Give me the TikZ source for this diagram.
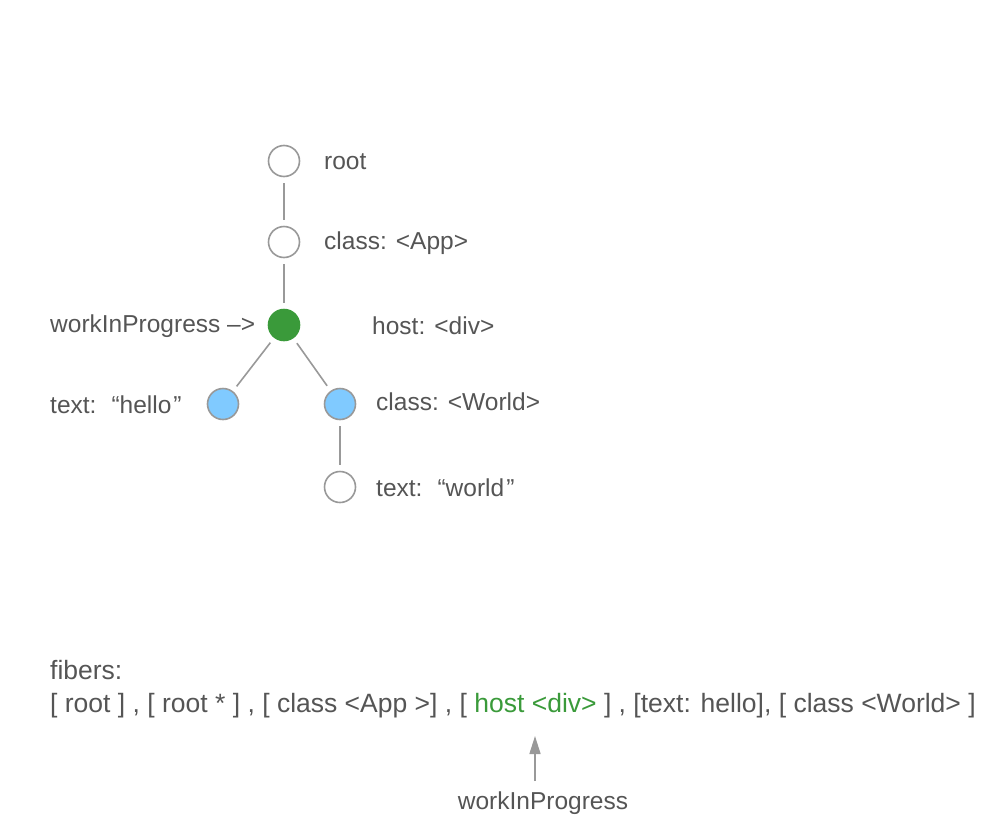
\documentclass[tikz,border=0pt]{standalone}
\usepackage{fontspec}
\setmainfont{Liberation Sans}
\usetikzlibrary{arrows.meta}
\definecolor{txt}{HTML}{555555}
\definecolor{edge}{HTML}{999999}
\definecolor{wipgreen}{HTML}{3A9A3A}
\definecolor{textgreen}{HTML}{3A9A3A}
\definecolor{lblue}{HTML}{80CAFF}
\begin{document}
\begin{tikzpicture}[x=1pt,y=-1pt,
  fnode/.style={circle,draw=edge,line width=1.6pt,minimum size=31pt,inner sep=0pt},
  plain/.style={fnode,fill=white},
  cur/.style={fnode,draw=wipgreen,fill=wipgreen},
  kid/.style={fnode,fill=lblue},
  lbl/.style={text=txt,font=\fontsize{24.5}{29}\selectfont,inner sep=0pt},
  lst/.style={text=txt,font=\fontsize{26.5}{31}\selectfont,inner sep=0pt},
  link/.style={draw=edge,line width=1.6pt,shorten <=6pt,shorten >=6pt}]
\useasboundingbox (0,0) rectangle (990,830);
\node[plain] (root) at (284,161) {};
\node[plain] (app) at (284,242) {};
\node[cur] (host) at (284,325) {};
\node[kid] (hello) at (223,404) {};
\node[kid] (worldc) at (340,404) {};
\node[plain] (worldt) at (340,487) {};
\draw[link] (root) -- (app);
\draw[link] (app) -- (host);
\draw[link] (host) -- (hello);
\draw[link] (host) -- (worldc);
\draw[link] (worldc) -- (worldt);
\node[lbl,anchor=west] (lroot) at (324,162) {root};
\node[lbl,anchor=west] (lapp) at (324,243) {class: <App>};
\node[lbl,anchor=west] (lwip) at (50,326) {workInProgress –>};
\node[lbl,anchor=west] (lhost) at (372,326) {host: <div>};
\node[lbl,anchor=west] (lhello) at (50,405) {text: \hspace{6pt}“hello\hspace{2pt}”};
\node[lbl,anchor=west] (lworldc) at (376,402) {class: <World>};
\node[lbl,anchor=west] (lworldt) at (376,488) {text: \hspace{6pt}“world\hspace{2pt}”};
\node[lst,anchor=west] (fib) at (50,670) {fibers:};
\node[lst,anchor=west] (list) at (50,706) {[ root ] , [ root * ] , [ class <App >] , [ \textcolor{textgreen}{host <div>} ] , [text: hello], [ class <World> ]};
\coordinate (arrtail) at (535,781);
\coordinate (arrhead) at (535,736);
\draw[draw=edge,line width=1.6pt,-{Triangle[length=18pt,width=11pt]}] (arrtail) -- (arrhead);
\node[lbl] (lwip2) at (543,803) {workInProgress};
\end{tikzpicture}
\end{document}
